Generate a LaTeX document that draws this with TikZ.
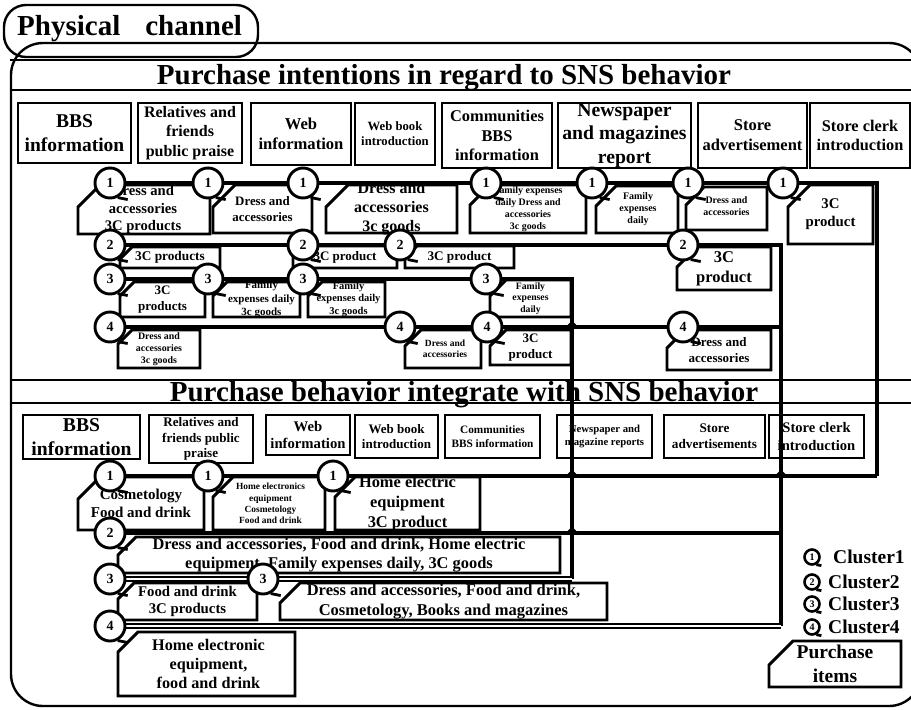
\documentclass[tikz,border=0pt]{standalone}
\usepackage{fontspec}
\setmainfont{Liberation Serif}

\pgfdeclarelayer{wires}
\pgfsetlayers{wires,main}

% bold serif text at a given size, 1.2 leading
\newcommand\fs[1]{\fontsize{#1pt}{\dimexpr #1pt*6/5\relax}\selectfont\bfseries}

\tikzset{
  frameline/.style={line width=2.4pt},
  hline/.style={line width=2.6pt},
  srcline/.style={line width=2.6pt},
  boxline/.style={line width=2.9pt, line join=miter},
  itemtext/.style={align=center, inner sep=0pt},
  clus/.style={line width=3.4pt},
  heavy/.style={line width=4.6pt},
  hollow/.style={double, line width=1.7pt, double distance=2.2pt},
  numc/.style={circle, draw, line width=2.9pt, fill=white, minimum size=30pt,
    inner sep=0pt, font=\fs{14}},
  legc/.style={circle, draw, line width=2.6pt, fill=white, minimum size=15pt,
    inner sep=0pt, font=\fs{10}},
  tail/.style={line width=2.8pt},
}

% source box: name, x1, y1, x2, y2, font size, text
\newcommand\srcbox[7]{%
  \draw[srcline] (#2,#3) rectangle (#4,#5);
  \node[itemtext, font=\fs{#6}] (#1) at ({(#2+#4)/2},{(#3+#5)/2}) {#7};}

% item box with a cut top-left corner: [opts], name, x1, y1, x2, y2, cut, size, text
\newcommand\itembox[9][]{%
  \draw[boxline] (#3,#4+#7) -- (#3+#7,#4) -- (#5,#4) -- (#5,#6) -- (#3,#6) -- cycle;
  \node[itemtext, font=\fs{#8}, #1] (#2) at ({(#3+#5)/2},{(#4+#6)/2}) {#9};}

% numbered cluster marker: name, x, y, digit
\newcommand\numc[4]{%
  \node[numc] (#1) at (#2,#3) {#4};
  \draw[tail] (#1.-62) -- ++(10,2);}

% small crossing mark on a horizontal wire
\newcommand\jump[2]{%
  \draw[line width=2pt] (#1-5,#2) -- (#1,#2-5) -- (#1+5,#2);}

\begin{document}
\begin{tikzpicture}[x=1pt,y=-1pt]
\useasboundingbox (0,0) rectangle (911,710);
\begin{pgfonlayer}{wires}
  \fill[white] (0,0) rectangle (911,710);
\end{pgfonlayer}

% ---------- outer frame and tab ----------
\draw[frameline, rounded corners=32pt] (400,43) -- (921,43) -- (921,706) -- (11,706) -- (11,43) -- cycle;
\draw[frameline, rounded corners=22pt] (4,5) rectangle (258,57);
\node[anchor=base west, inner sep=0pt, font=\fs{29}] (chan) at (17,35) {Physical\hspace{25pt}channel};

% ---------- section headers ----------
\draw[hline] (10,60) -- (911,60);
\draw[hline] (10,90) -- (911,90);
\draw[hline] (10,380) -- (911,380);
\draw[hline] (10,403) -- (911,403);
\node[anchor=base, inner sep=0pt, font=\fs{29}] (hdrA) at (444,84) {Purchase intentions in regard to SNS behavior};
\node[anchor=base, inner sep=0pt, font=\fs{29}] (hdrB) at (464,401) {Purchase behavior integrate with SNS behavior};

% ---------- sources (intentions) ----------
\srcbox{sA1}{18}{103}{131}{163}{19.5}{BBS\\information}
\srcbox{sA2}{138}{103}{242}{163}{16}{Relatives and\\friends\\public praise}
\srcbox{sA3}{251}{103}{351}{165}{16.6}{Web\\information}
\srcbox{sA4}{355}{103}{435}{165}{12.7}{Web book\\introduction}
\srcbox{sA5}{442}{103}{552}{168}{16.4}{Communities\\BBS\\information}
\srcbox{sA6}{558}{103}{691}{168}{19.7}{Newspaper\\and magazines\\report}
\srcbox{sA7}{698}{103}{807}{168}{16.5}{Store\\advertisement}
\srcbox{sA8}{810}{103}{910}{168}{16.3}{Store clerk\\introduction}

% ---------- sources (behavior) ----------
\srcbox{sB1}{23}{415}{140}{459}{19.6}{BBS\\information}
\srcbox{sB2}{149}{415}{253}{463}{13.1}{Relatives and\\friends public\\praise}
\srcbox{sB3}{266}{415}{350}{455}{14.7}{Web\\information}
\srcbox{sB4}{355}{415}{438}{458}{13}{Web book\\introduction}
\srcbox{sB5}{445}{415}{540}{458}{11.3}{Communities\\BBS information}
\srcbox{sB6}{557}{415}{652}{458}{10.7}{Newspaper and\\magazine reports}
\srcbox{sB7}{664}{415}{765}{458}{13.2}{Store\\advertisements}
\srcbox{sB8}{769}{415}{864}{458}{14.6}{Store clerk\\introduction}

% ---------- purchase items (intentions) ----------
\itembox[xshift=-1pt]{iA}{78}{185}{210}{234}{22}{14.6}{Dress and\\accessories\\3C products}
\itembox{iB}{213}{185}{312}{233}{22}{12.9}{Dress and\\accessories}
\itembox{iC}{326}{185}{457}{233}{22}{16}{Dress and\\accessories\\3c goods}
\itembox{iD}{470}{185}{586}{233}{20}{9.9}{Family expenses\\daily Dress and\\accessories\\3c goods}
\itembox[xshift=1pt]{iE}{596}{186}{678}{233}{20}{10}{Family\\expenses\\daily}
\itembox[yshift=2pt]{iF}{686}{187}{767}{230}{18}{9.9}{Dress and\\accessories}
\itembox{iG}{788}{185}{873}{244}{22}{14.8}{3C\\product}
\itembox{iH}{120}{247}{220}{268}{12}{13.3}{3C products}
\itembox{iI}{293}{246}{397}{268}{12}{13}{3C product}
\itembox{iJ}{405}{246}{514}{268}{12}{13.2}{3C product}
\itembox{iK}{677}{247}{771}{290}{20}{16.5}{3C\\product}
\itembox{iL}{120}{282}{205}{317}{14}{13}{3C\\products}
\itembox[xshift=5pt]{iM}{213}{282}{300}{317}{14}{11}{Family\\expenses daily\\3c goods}
\itembox[xshift=2pt]{iN}{308}{282}{385}{317}{14}{10.5}{Family\\expenses daily\\3c goods}
\itembox{iO}{490}{280}{571}{317}{16}{9.7}{Family\\expenses\\daily}
\itembox{iP}{118}{330}{200}{368}{14}{9.9}{Dress and\\accessories\\3c goods}
\itembox[xshift=2pt]{iQ}{405}{330}{481}{368}{16}{9.5}{Dress and\\accessories}
\itembox{iR}{490}{330}{571}{365}{16}{13}{3C\\product}
\itembox{iS}{667}{330}{771}{370}{18}{13}{Dress and\\accessories}

% ---------- purchase items (behavior) ----------
\itembox{iT}{78}{477}{204}{530}{22}{15}{Cosmetology\\Food and drink}
\itembox[xshift=1.5pt]{iU}{213}{477}{325}{530}{20}{9.4}{Home electronics\\equipment\\Cosmetology\\Food and drink}
\itembox{iV}{335}{477}{480}{530}{20}{16.4}{Home electric\\equipment\\3C product}
\itembox{iW}{118}{537}{560}{573}{18}{16.4}{Dress and accessories, Food and drink, Home electric\\equipment, Family expenses daily, 3C goods}
\itembox{iX}{118}{583}{257}{620}{16}{14.8}{Food and drink\\3C products}
\itembox{iY}{280}{583}{607}{620}{20}{16.5}{Dress and accessories, Food and drink,\\Cosmetology, Books and magazines}
\itembox[xshift=2pt]{iZ}{118}{632}{295}{696}{20}{16.2}{Home electronic\\equipment,\\food and drink}

% ---------- cluster markers ----------
\numc{t1a}{110}{183}{1} \numc{t1b}{208}{183}{1} \numc{t1c}{303}{183}{1}
\numc{t1d}{486}{183}{1} \numc{t1e}{592}{183}{1} \numc{t1f}{688}{183}{1}
\numc{t1g}{783}{183}{1}
\numc{t2a}{110}{245}{2} \numc{t2b}{303}{245}{2} \numc{t2c}{400}{245}{2}
\numc{t2d}{683}{245}{2}
\numc{t3a}{110}{279}{3} \numc{t3b}{208}{279}{3} \numc{t3c}{303}{279}{3}
\numc{t3d}{486}{279}{3}
\numc{t4a}{110}{327}{4} \numc{t4b}{400}{327}{4} \numc{t4c}{487}{327}{4}
\numc{t4d}{683}{327}{4}
\numc{b1a}{110}{476}{1} \numc{b1b}{208}{476}{1} \numc{b1c}{333}{476}{1}
\numc{b2a}{110}{533}{2}
\numc{b3a}{110}{579}{3} \numc{b3b}{263}{579}{3}
\numc{b4a}{110}{626}{4}

% ---------- cluster wires ----------
\coordinate (k1t) at (877,183);  \coordinate (k1b) at (877,476);
\coordinate (k2t) at (781,245);  \coordinate (k2b) at (781,626);
\coordinate (k2m) at (781,533);  \coordinate (k4t) at (781,327);
\coordinate (k3t) at (572,279);  \coordinate (k3b) at (572,579);
\begin{pgfonlayer}{wires}
  \draw[clus] (t1a.center) -- (t1b.center) -- (t1c.center) -- (t1d.center) -- (t1e.center)
    -- (t1f.center) -- (t1g.center) -- (k1t) -- (k1b);
  \draw[heavy] (k1b) -- (b1c.center) -- (b1b.center) -- (b1a.center);
  \draw[clus] (t2a.center) -- (t2b.center) -- (t2c.center) -- (t2d.center) -- (k2t) -- (k2b);
  \draw[hollow] (k2b) -- (b4a.center);
  \draw[clus] (t4a.center) -- (t4b.center) -- (t4c.center) -- (t4d.center) -- (k4t);
  \draw[heavy] (b2a.center) -- (k2m);
  \draw[clus] (t3a.center) -- (t3b.center) -- (t3c.center) -- (t3d.center) -- (k3t) -- (k3b);
  \draw[hollow] (k3b) -- (b3b.center) -- (b3a.center);
\end{pgfonlayer}
\jump{572}{327} \jump{572}{476} \jump{572}{533} \jump{781}{476}

% ---------- legend ----------
\node[legc] (l1) at (812,557) {1}; \draw[tail] (l1.-60) -- ++(5,1);
\node[legc] (l2) at (812,582) {2}; \draw[tail] (l2.-60) -- ++(5,1);
\node[legc] (l3) at (812,604) {3}; \draw[tail] (l3.-60) -- ++(5,1);
\node[legc] (l4) at (812,627) {4}; \draw[tail] (l4.-60) -- ++(5,1);
\node[anchor=west, inner sep=0pt, font=\fs{19.5}] (lt1) at (833,557) {Cluster1};
\node[anchor=west, inner sep=0pt, font=\fs{19.5}] (lt2) at (828,582) {Cluster2};
\node[anchor=west, inner sep=0pt, font=\fs{19.5}] (lt3) at (828,604) {Cluster3};
\node[anchor=west, inner sep=0pt, font=\fs{19.5}] (lt4) at (828,627) {Cluster4};
\itembox{iLeg}{769}{641}{901}{687}{24}{19.5}{Purchase\\items}
\end{tikzpicture}
\end{document}
